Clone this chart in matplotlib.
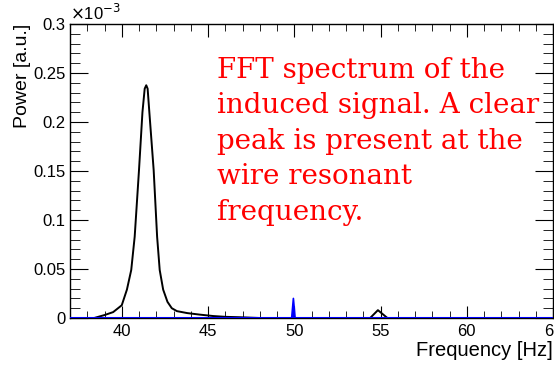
import matplotlib
matplotlib.use("Agg")
import matplotlib.pyplot as plt
from matplotlib.ticker import MultipleLocator, FuncFormatter
import numpy as np

plt.rcParams['font.family'] = ['Liberation Sans', 'DejaVu Sans']

# black spectrum (power in a.u.)
freq = [37.0, 38.4, 39.0, 39.5, 40.0, 40.3, 40.55, 40.75, 41.0, 41.2, 41.33, 41.42,
        41.5, 41.6, 41.85, 42.05, 42.2, 42.4, 42.65, 42.9, 43.2, 43.8, 44.5, 45.3,
        46.0, 46.8, 48.0, 54.4, 54.85, 55.4, 58.0, 65.0]
power = [0.0, 0.0, 0.003e-3, 0.006e-3, 0.013e-3, 0.029e-3, 0.049e-3, 0.083e-3, 0.151e-3,
         0.210e-3, 0.234e-3, 0.2375e-3, 0.234e-3, 0.210e-3, 0.151e-3, 0.083e-3, 0.049e-3,
         0.029e-3, 0.0165e-3, 0.010e-3, 0.007e-3, 0.005e-3, 0.0035e-3, 0.002e-3,
         0.0012e-3, 0.0008e-3, 0.0, 0.0, 0.008e-3, 0.0, 0.0, 0.0]

# blue reference trace
freq_b = [37.0, 49.85, 49.95, 50.05, 65.0]
power_b = [0.0, 0.0, 0.020e-3, 0.0, 0.0]

scale = 1e-3
x_ticks = [40, 45, 50, 55, 60, 65]
y_ticks = [0, 0.05, 0.1, 0.15, 0.2, 0.25, 0.3]

fig = plt.figure(figsize=(5.54, 3.65), dpi=100)
ax = fig.add_axes([70/554, 47/365, 483/554, 294/365])

ax.plot(freq, np.array(power)/scale, color='black', lw=1.4)
ax.fill(freq_b, np.array(power_b)/scale, color='blue', lw=0)
ax.plot(freq_b, np.array(power_b)/scale, color='blue', lw=1.2)
ax.axhline(0, color='blue', lw=2.2, zorder=5)

ax.set_xlim(37, 65)
ax.set_ylim(0, 0.3)
ax.set_xticks(x_ticks)
ax.set_yticks(y_ticks)
ax.xaxis.set_minor_locator(MultipleLocator(1))
ax.yaxis.set_minor_locator(MultipleLocator(0.01))
ax.yaxis.set_major_formatter(FuncFormatter(lambda v, p: '%g' % round(v, 3)))
ax.tick_params(which='both', direction='in', top=True, right=True, labelsize=12)
ax.tick_params(axis='y', which='major', length=13, pad=3)
ax.tick_params(axis='y', which='minor', length=7)
ax.tick_params(axis='x', which='major', length=9, pad=4)
ax.tick_params(axis='x', which='minor', length=5)

for s in ax.spines.values():
    s.set_linewidth(1.0)

ax.set_xlabel('Frequency [Hz]', fontsize=14.5, loc='right', labelpad=2)
ax.set_ylabel('Power [a.u.]', fontsize=14, loc='top', labelpad=2)

ax.text(0.0, 1.005, r'$\times$10$^{-3}$', transform=ax.transAxes, ha='left', va='bottom',
        fontsize=12)

fig.text(217/554, 1 - 57/365,
         'FFT spectrum of the\ninduced signal. A clear\npeak is present at the\nwire resonant\nfrequency.',
         color='red', fontsize=20, family='DejaVu Serif', ha='left', va='top',
         linespacing=1.40)

fig.savefig('out.png', dpi=100)
